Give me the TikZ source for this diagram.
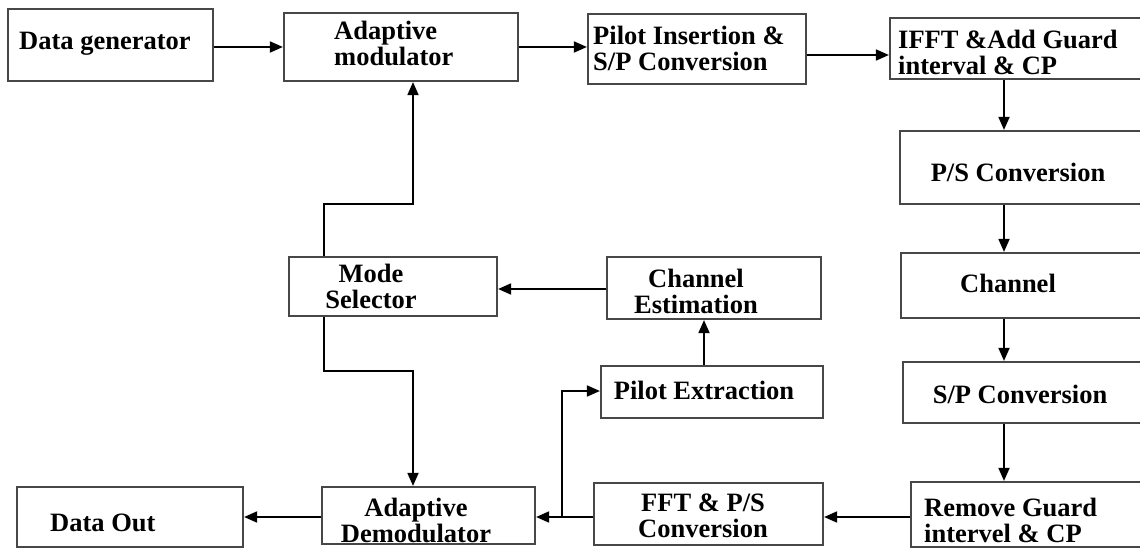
\documentclass[tikz,border=0pt]{standalone}
\usepackage{fontspec}
\setmainfont{Liberation Serif}
\usetikzlibrary{arrows.meta}
\begin{document}
\begin{tikzpicture}[x=1pt,y=-1pt,
  blk/.style={draw=black!72,line width=2.2pt,rectangle,inner sep=0pt},
  txt/.style={inner sep=0pt,font=\fontsize{26.5}{26}\selectfont\bfseries},
  tl/.style={txt,anchor=west,align=left},
  tc/.style={txt,anchor=center,align=center},
  arr/.style={line width=1.8pt,-{Triangle[length=13pt,width=11pt]}},
  ln/.style={line width=1.8pt}]
\fill[white] (0,0) rectangle (1140,548);
\useasboundingbox (0,0) rectangle (1140,548);
% boxes
\node[blk,minimum width=205pt,minimum height=72pt] (dg) at (110.5,45) {};
\node[blk,minimum width=234pt,minimum height=68pt] (mod) at (401,47) {};
\node[blk,minimum width=218pt,minimum height=70pt] (pil) at (697,49) {};
\node[blk,minimum width=270pt,minimum height=61pt] (ifft) at (1025,48.5) {};
\node[blk,minimum width=260pt,minimum height=73pt] (ps) at (1030,167.5) {};
\node[blk,minimum width=259pt,minimum height=65pt] (ch) at (1030.5,285.5) {};
\node[blk,minimum width=257pt,minimum height=61pt] (sp) at (1031.5,392.5) {};
\node[blk,minimum width=249pt,minimum height=65pt] (rg) at (1035.5,514.5) {};
\node[blk,minimum width=229pt,minimum height=62pt] (fft) at (708.5,514) {};
\node[blk,minimum width=213pt,minimum height=57pt] (dem) at (428.5,515.5) {};
\node[blk,minimum width=226pt,minimum height=60pt] (dout) at (130,517) {};
\node[blk,minimum width=208pt,minimum height=59pt] (ms) at (393,286.5) {};
\node[blk,minimum width=214pt,minimum height=62pt] (ce) at (714,288) {};
\node[blk,minimum width=222pt,minimum height=52pt] (pe) at (712,392) {};
% texts
\node[tl] (dgt) at (19,44) {Data generator};
\node[tl] (modt) at (334,43) {Adaptive\\modulator};
\node[tl] (pilt) at (593,48.5) {Pilot Insertion \&\\S/P Conversion};
\node[tl] (ifftt) at (898,52.5) {IFFT \&Add Guard\\interval \& CP};
\node[tc] (pst) at (1018,172) {P/S Conversion};
\node[tc] (cht) at (1008,283) {Channel};
\node[tc] (spt) at (1020,394) {S/P Conversion};
\node[tl] (rgt) at (924,520.5) {Remove Guard\\intervel \& CP};
\node[tc] (fftt) at (703,516) {FFT \& P/S\\Conversion};
\node[tc] (demt) at (416,520.5) {Adaptive\\Demodulator};
\node[tl] (doutt) at (50,523) {Data Out};
\node[tc] (mst) at (371,286) {Mode\\Selector};
\node[tc] (cet) at (696,291.5) {Channel\\Estimation};
\node[tc] (pet) at (704,390) {Pilot Extraction};
% coordinates
\coordinate (colx) at (1004,0);
\coordinate (J) at (562,517);
\coordinate (a1) at (324,204);
\coordinate (a2) at (413,204);
\coordinate (b1) at (324,371);
\coordinate (b2) at (413,371);
\coordinate (pey) at (562,391);
% connectors
\draw[arr] (dg.east |- mod.west) -- (mod.west);
\draw[arr] (mod.east) -- (mod.east -| pil.west);
\draw[arr] ([yshift=-6pt]pil.east) -- ([yshift=-6pt]pil.east -| ifft.west);
\draw[arr] (colx |- ifft.south) -- (colx |- ps.north);
\draw[arr] (colx |- ps.south) -- (colx |- ch.north);
\draw[arr] (colx |- ch.south) -- (colx |- sp.north);
\draw[arr] (colx |- sp.south) -- (colx |- rg.north);
\draw[arr] (J -| rg.west) -- (J -| fft.east);
\draw[ln] (J -| fft.west) -- (J);
\draw[arr] (J) -- (J -| dem.east);
\draw[arr] (J) -- (pey) -- (pey -| pe.west);
\draw[arr] ([xshift=-8pt]pe.north) -- ([xshift=-8pt]pe.north |- ce.south);
\draw[arr] ([yshift=-1pt]ce.west) -- ([yshift=-1pt]ce.west -| ms.east);
\draw[arr] (a1 |- ms.north) -- (a1) -- (a2) -- (a2 |- mod.south);
\draw[arr] (b1 |- ms.south) -- (b1) -- (b2) -- (b2 |- dem.north);
\draw[arr] (J -| dem.west) -- (J -| dout.east);
\end{tikzpicture}
\end{document}
